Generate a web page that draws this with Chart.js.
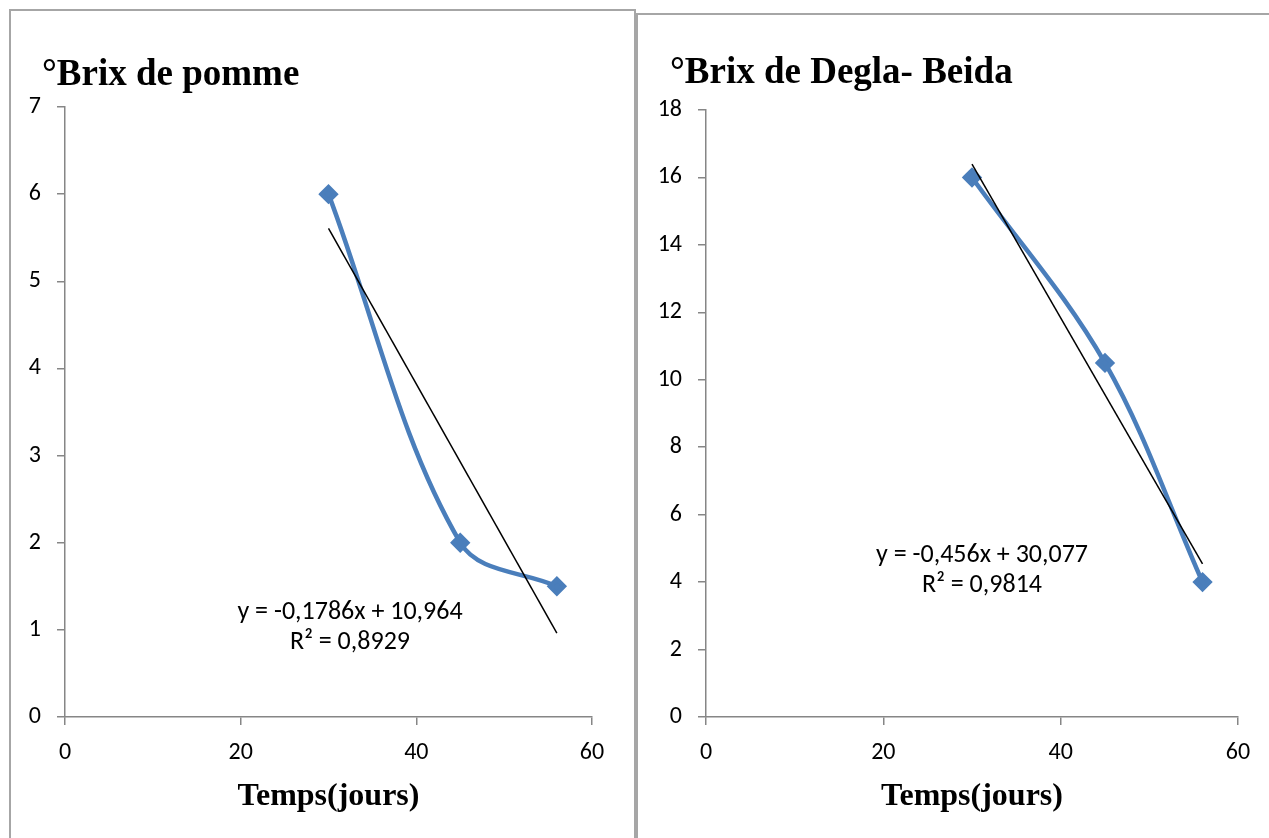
<!DOCTYPE html>
<html>
<head>
<meta charset="utf-8">
<script src="https://cdn.jsdelivr.net/npm/chart.js@4.4.0/dist/chart.umd.min.js"></script>
<style>
  body { margin: 0; background: #fff; width: 1269px; height: 838px; overflow: hidden; position: relative; }
  .box { position: absolute; border: 2px solid #a6a6a6; background: #fff; overflow: hidden; }
  #boxPomme { left: 9px; top: 9px; width: 623px; height: 840px; }
  #boxDegla { left: 636px; top: 13px; width: 640px; height: 840px; }
  canvas { position: absolute; left: 0; top: 0; }
</style>
</head>
<body>
<div class="box" id="boxPomme"><canvas id="chartPomme" width="621" height="827"></canvas></div>
<div class="box" id="boxDegla"><canvas id="chartDegla" width="631" height="823"></canvas></div>

<script>
// Temps de stockage (jours)
const jours = [30, 45, 56];

// °Brix mesurés
const brixPomme = [6, 2, 1.5];
const brixDegla = [16, 10.5, 4];

// Courbes de tendance linéaires
const pommeSlope = -0.1786, pommeIntercept = 10.964, pommeR2 = '0,8929';
const deglaSlope = -0.456, deglaIntercept = 30.077, deglaR2 = '0,9814';

const xTicks = [0, 20, 40, 60];

const axisGray = '#868686';
const blue = '#4a7ebb';
const tickFont = { family: 'Carlito, Lato, sans-serif', size: 24 };

function points(ys) {
    return jours.map((x, i) => ({ x: x, y: ys[i] }));
}

function trend(slope, intercept) {
    const x0 = jours[0], x1 = jours[jours.length - 1];
    return [{ x: x0, y: slope * x0 + intercept }, { x: x1, y: slope * x1 + intercept }];
}

function fmt(v) {
    return String(v).replace('.', ',');
}

// draws the chart title and the trendline equation
function textPlugin(title, tx, ty, slope, intercept, r2, ex, ey) {
    return {
        id: 'texts',
        afterDraw(chart) {
            const c = chart.ctx;
            c.save();
            c.fillStyle = '#000';
            c.font = 'bold 37px "Liberation Serif", "Times New Roman", serif';
            c.textAlign = 'left';
            c.textBaseline = 'alphabetic';
            c.fillText(title, tx, ty);

            const px = chart.scales.x.getPixelForValue(ex);
            const py = chart.scales.y.getPixelForValue(ey);
            c.font = '26px Carlito, Lato, sans-serif';
            c.textAlign = 'center';
            c.fillText('y = ' + fmt(slope) + 'x + ' + fmt(intercept), px, py);
            c.fillText('R\u00B2 = ' + r2, px, py + 30);
            c.restore();
        }
    };
}

function makeChart(id, ys, slope, intercept, yMax, yStep, yWidth, pad, plugin) {
    const ctx = document.getElementById(id).getContext('2d');
    return new Chart(ctx, {
        type: 'scatter',
        data: {
            datasets: [{
                data: trend(slope, intercept),
                showLine: true,
                borderColor: '#000',
                borderWidth: 1.5,
                pointRadius: 0,
                tension: 0
            }, {
                data: points(ys),
                showLine: true,
                borderColor: blue,
                backgroundColor: blue,
                borderWidth: 4.5,
                tension: 0.35,
                pointStyle: 'rectRot',
                pointRadius: 7,
                pointBorderColor: blue,
                pointBackgroundColor: blue
            }]
        },
        options: {
            responsive: false,
            animation: false,
            devicePixelRatio: 1,
            layout: { padding: pad },
            plugins: {
                legend: { display: false },
                tooltip: { enabled: false }
            },
            scales: {
                x: {
                    type: 'linear',
                    min: 0,
                    max: 60,
                    afterBuildTicks: (scale) => { scale.ticks = xTicks.map(v => ({ value: v })); },
                    afterFit: (scale) => { scale.height = 121; },
                    border: { color: axisGray, width: 1.5 },
                    grid: { drawOnChartArea: false, color: axisGray, lineWidth: 1.5, tickLength: 8 },
                    ticks: { color: '#000', font: tickFont, padding: 14, maxRotation: 0 },
                    title: {
                        display: true,
                        text: 'Temps(jours)',
                        color: '#000',
                        font: { family: '"Liberation Serif", "Times New Roman", serif', size: 32, weight: 'bold' },
                        padding: { top: 0, bottom: 22 }
                    }
                },
                y: {
                    min: 0,
                    max: yMax,
                    afterFit: (scale) => { scale.width = yWidth; },
                    border: { color: axisGray, width: 1.5 },
                    grid: { drawOnChartArea: false, color: axisGray, lineWidth: 1.5, tickLength: 8 },
                    ticks: { color: '#000', font: tickFont, padding: 16, stepSize: yStep }
                }
            }
        },
        plugins: [plugin]
    });
}

makeChart('chartPomme', brixPomme, pommeSlope, pommeIntercept, 7, 1, 54,
    { left: 0, right: 40, top: 96, bottom: 0 },
    textPlugin('\u00B0Brix de pomme', 31, 74, pommeSlope, pommeIntercept, pommeR2, 32.45, 1.125));

makeChart('chartDegla', brixDegla, deglaSlope, deglaIntercept, 18, 2, 68,
    { left: 0, right: 31, top: 95, bottom: 0 },
    textPlugin('\u00B0Brix de Degla- Beida', 32, 68, deglaSlope, deglaIntercept, deglaR2, 31.13, 4.6));
</script>
</body>
</html>
